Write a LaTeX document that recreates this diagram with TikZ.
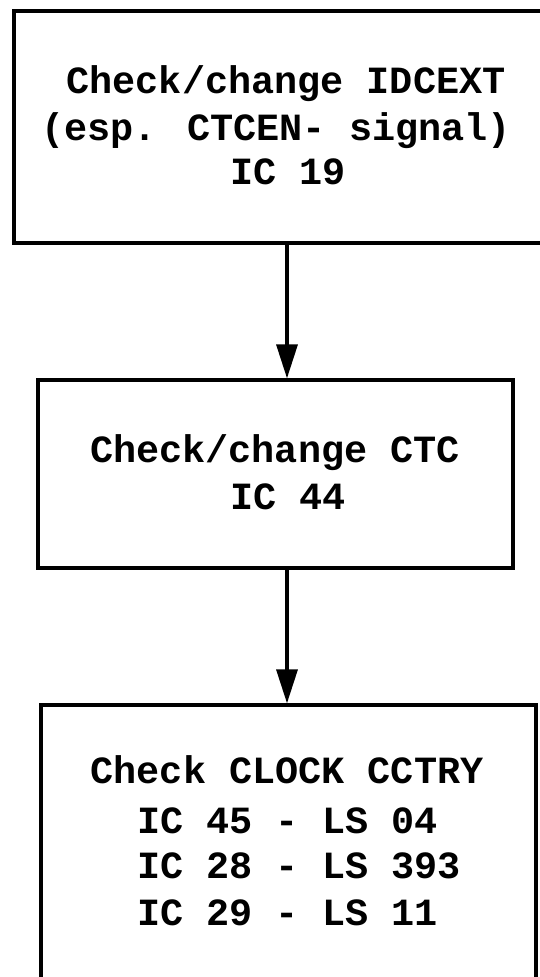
\documentclass[tikz,border=0pt]{standalone}
\usepackage{fontspec}
\newfontfamily\twfont{Liberation Mono}
\usetikzlibrary{arrows.meta}
\tikzset{
  box/.style={draw, line width=3.3pt, rectangle, inner sep=0pt},
  txt/.style={inner sep=0pt, font=\twfont\bfseries\fontsize{38.5}{46}\selectfont},
  conn/.style={line width=3.4pt, -{Triangle[length=34pt,width=21pt]}}
}
\begin{document}
\begin{tikzpicture}[x=1pt,y=-1pt]
\useasboundingbox (0,0) rectangle (540,977);
\clip (0,0) rectangle (540,977);
\fill[white] (0,0) rectangle (540,977);
% boxes
\node[box, minimum width=534pt, minimum height=232pt] (b1) at (281,127) {};
\node[box, minimum width=475pt, minimum height=188pt] (b2) at (275.5,474) {};
\node[box, minimum width=495pt, minimum height=305pt] (b3) at (288.5,857.5) {};
% texts
\node[txt, anchor=base] (t11) at (286,93) {Check/change IDCEXT};
\node[txt, anchor=base] (t12) at (276,140) {(esp. CTCEN- signal)};
\node[txt, anchor=base] (t13) at (288,184) {IC 19};
\node[txt, anchor=base] (t21) at (275,462) {Check/change CTC};
\node[txt, anchor=base] (t22) at (288,509) {IC 44};
\node[txt, anchor=base] (t31) at (287,783) {Check CLOCK CCTRY};
\node[txt, anchor=base west] (t32) at (137,833) {IC 45 - LS 04};
\node[txt, anchor=base west] (t33) at (137,878) {IC 28 - LS 393};
\node[txt, anchor=base west] (t34) at (137,925) {IC 29 - LS 11};
% connectors
\coordinate (ax) at (287,0);
\draw[conn] (b1.south -| ax) -- (b2.north -| ax);
\draw[conn] (b2.south -| ax) -- (b3.north -| ax);
\end{tikzpicture}
\end{document}
